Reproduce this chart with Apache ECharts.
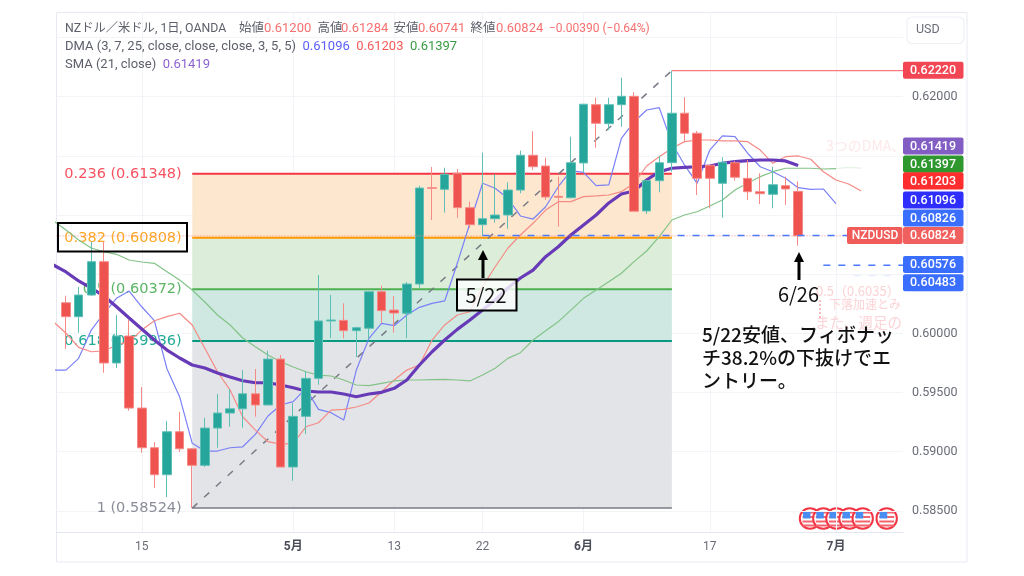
<!DOCTYPE html>
<html><head><meta charset="utf-8">
<style>html,body{margin:0;padding:0;background:#fff}#c{width:1024px;height:576px}</style>
<script src="https://cdn.jsdelivr.net/npm/echarts@6/dist/echarts.min.js"></script>
</head><body><div id="c"></div>
<script>
// index 0 = 15 Apr; candles run from index -6 to 52 (26 Jun), trading days only
const candleStart = -6;
const opens  = [.60259,.60141,.60324,.60606,.5975,.59978,.59369,.59034,.58806,.59169,.59025,.58885,.592,.59327,.59363,.5949,.59395,.59783,.58871,.59299,.5962,.60105,.6011,.60023,.60043,.60352,.60197,.6017,.60417,.61231,.61217,.61353,.61062,.60918,.60969,.61,.61211,.61505,.61414,.61158,.61146,.6144,.61932,.61772,.61932,.62003,.61034,.6129,.61442,.6186,.61691,.6142,.61268,.61442,.6131,.61197,.61175,.61248,.612];
const closes = [.60141,.60324,.60606,.5975,.59978,.59369,.59034,.58806,.59169,.59025,.58885,.592,.59327,.59363,.5949,.59395,.59783,.58871,.59299,.5962,.60105,.60113,.60023,.60048,.60352,.60192,.60172,.60417,.61228,.61226,.61344,.61062,.60918,.60969,.61,.61211,.61505,.61408,.61152,.6115,.61442,.61936,.61775,.61932,.62003,.61032,.6129,.61442,.6186,.61691,.6131,.6131,.61446,.61319,.61197,.6118,.61256,.6122,.60824];
const lows   = [.59868,.60006,.60316,.59668,.59707,.59347,.58992,.58693,.58617,.58998,.58524,.58871,.59034,.59211,.59203,.59296,.59395,.58871,.58755,.5915,.59566,.59961,.59958,.598,.59952,.60088,.60006,.59961,.60383,.60958,.6102,.60977,.6089,.60826,.60935,.60884,.61184,.6138,.61127,.60901,.61141,.61355,.61569,.61718,.61746,.6103,.61009,.61192,.61366,.6162,.61169,.61057,.60977,.6129,.61127,.61093,.61057,.61085,.60741];
const highs  = [.60318,.60392,.60775,.60775,.60155,.60113,.59547,.59082,.5926,.59336,.59031,.59287,.59488,.5953,.5969,.59699,.59854,.59817,.59412,.59682,.60493,.60324,.60254,.60056,.60356,.60403,.60316,.60434,.61248,.61406,.614,.61389,.61113,.61527,.61344,.61277,.61544,.61707,.61484,.61324,.61662,.61939,.61991,.61991,.6216,.62037,.61296,.61501,.6222,.61995,.6171,.61423,.61488,.61459,.61465,.61353,.61408,.61324,.61284];
const lineStart = -7;
const dmaBlue = [.5969,.5969,.59789,.60028,.6017,.60296,.60358,.60225,.60107,.59699,.59465,.59071,.59006,.59006,.59034,.59042,.59147,.59302,.59395,.59423,.59536,.59358,.5933,.59268,.5969,.59958,.60085,.60065,.60155,.6022,.60254,.60274,.60592,.60933,.61268,.61226,.61141,.60992,.60966,.6107,.61239,.61375,.61361,.61248,.61254,.61648,.61786,.61887,.61907,.61606,.61423,.61268,.61549,.61668,.61662,.61522,.61408,.61366,.6131,.61231,.61217,.6122,.61096];
const dmaRed = [.60099,.60001,.59882,.59845,.59851,.59902,.5993,.60028,.60107,.60141,.6017,.60071,.59874,.59676,.59521,.59296,.59183,.59085,.59065,.59071,.59211,.59245,.59352,.59358,.59378,.59412,.59507,.59606,.5969,.59733,.59944,.60071,.60155,.60183,.60394,.60563,.60719,.60831,.6093,.61042,.61113,.61113,.61155,.61161,.61169,.61197,.61268,.61414,.61493,.61564,.6162,.61634,.61634,.61626,.61626,.6162,.61549,.61437,.61493,.61499,.61471,.61366,.61296,.61262,.61203];
const dmaGreen = [.6095,.60873,.60789,.60721,.6069,.60668,.6062,.60603,.60592,.60521,.60451,.60367,.60265,.60155,.60071,.59961,.59887,.59817,.59761,.59716,.59676,.59648,.5964,.59606,.59564,.59558,.59578,.59598,.59606,.59606,.59609,.59612,.59606,.59598,.59648,.59705,.59789,.59837,.59944,.60023,.60099,.60197,.60296,.60367,.60437,.60508,.60606,.60696,.60817,.60958,.61,.61028,.61076,.61127,.61211,.61271,.61324,.61366,.61395,.61395,.61395,.61389,.61392,.61402,.61397];
const smaPurple = [.60578,.60519,.60443,.60383,.60316,.60225,.6013,.60037,.59944,.59859,.59792,.59733,.59707,.59665,.59631,.596,.59583,.59583,.59564,.59541,.59513,.59505,.59505,.59488,.59465,.59488,.59502,.59536,.59606,.59733,.59845,.59944,.60034,.60113,.60197,.60282,.60383,.60468,.60535,.60648,.60732,.60831,.60916,.61,.61102,.61178,.61203,.61296,.61366,.61395,.61403,.61408,.61414,.61437,.61451,.61459,.61465,.61465,.61457,.61419];
const fibBoxStart = 4, fibBoxEnd = 42;
const fibLevels = [.61348,.60808,.60372,.59936,.58524];
const fibNames = ['0.236 (0.61348)','0.382 (0.60808)','0.5 (0.60372)','0.618 (0.59936)','1 (0.58524)'];
const fibLineColors = ['#f23645','#ff9800','#4caf50','#089981','#787b86'];
const fibTextColors = ['#f7525f','#ffa726','#5bb565','#22ab94','#8a8d97'];
const fibFills = ['#fde8cf','#dcedd9','#cfe9e2','#e3e4e7'];
const swingLow = .58524, swingHigh = .6222;
const tickIdx = [0,12,20,27,35,45,55];
const tickText = ['15','5月','13','22','6月','17','7月'];
const yGrid = [.585,.59,.595,.6,.605,.61,.615,.62,.625];
const yLabels = [.585,.59,.595,.6,.62];
const tagTexts = ['0.62220','0.61419','0.61397','0.61203','0.61096','0.60826','0.60824','0.60576','0.60483'];
const tagColors = ['#f23645','#673ab7','#008000','#ff0000','#0000ff','#2962ff','#ef5350','#2962ff','#2962ff'];
// price scale height at which each stacked tag sits
const tagAt = [.62223,.61583,.61431,.61288,.61127,.60975,.60827,.60582,.60428];
const eventX = [810,823.3,836.4,849.5,862.7,886.7];
const headerTexts = ['NZドル／米ドル, 1日, OANDA','始値','0.61200','高値','0.61284','安値','0.60741','終値','0.60824','−0.00390 (−0.64%)'];
const headerX = [65,239,264,317.5,341,393.5,418,470.5,496,549];

const GREEN='#26a69a', RED='#ef5350', FONT='Roboto,"Noto Sans CJK JP",sans-serif', JP='"Noto Sans CJK JP",sans-serif';
const xMin=-6.754, xMax=60.31;
const withX=(arr,start)=>arr.map((v,i)=>[start+i,v]);
const seg=(a,b,v)=>[[a,v],[b,v]];
const lineSeries=(data,color,width,z,extra)=>Object.assign({type:'line',data,symbol:'none',silent:true,animation:false,z,lineStyle:{color,width}},extra||{});

const chart=echarts.init(document.getElementById('c'),null,{renderer:'canvas'});
const series=[];
// fib fills
series.push({type:'custom',z:1,silent:true,animation:false,clip:false,
  data:fibFills.map((c,i)=>[fibBoxStart,fibBoxEnd,fibLevels[i],fibLevels[i+1]]),
  encode:{x:[0,1],y:[2,3]},
  renderItem:(p,api)=>{const a=api.coord([api.value(0),api.value(2)]),b=api.coord([api.value(1),api.value(3)]);
    return {type:'rect',shape:{x:a[0],y:a[1],width:b[0]-a[0],height:b[1]-a[1]},style:{fill:fibFills[p.dataIndex]}};}});
// fib labels
series.push({type:'custom',z:2,silent:true,animation:false,clip:false,
  data:fibLevels.map(v=>[fibBoxStart,v]),encode:{x:0,y:1},
  renderItem:(p,api)=>{const a=api.coord([api.value(0),api.value(1)]);
    return {type:'text',style:{x:a[0]-10.5,y:a[1],text:fibNames[p.dataIndex],align:'right',verticalAlign:'middle',
      fill:fibTextColors[p.dataIndex],font:'14.5px "DejaVu Sans",sans-serif'}};}});
fibLevels.forEach((v,i)=>series.push(lineSeries(seg(fibBoxStart,fibBoxEnd,v),fibLineColors[i],i===4?1.5:2,2)));
// swing diagonal + high line
series.push(lineSeries([[fibBoxStart,swingLow],[fibBoxEnd,swingHigh]],'#787b86',1.5,3,{lineStyle:{color:'#787b86',width:1.5,type:[7,9]}}));
series.push(lineSeries(seg(fibBoxEnd,xMax,swingHigh),'#f77c80',1.2,3));
// indicators
series.push(lineSeries(withX(dmaBlue,lineStart),'#7a80f7',1.2,4));
series.push(lineSeries(withX(dmaRed,lineStart),'#f58a85',1.2,4));
series.push(lineSeries(withX(dmaGreen,lineStart).slice(0,63),'#83c387',1.2,4));
series.push(lineSeries(withX(dmaGreen,lineStart).slice(62),'#e6f3e6',1.2,4));
series.push(lineSeries(withX(smaPurple,lineStart),'#673ab7',3.2,4.5));
// candles
series.push({type:'candlestick',z:5,silent:true,animation:false,barWidth:9,
  data:opens.map((o,i)=>[candleStart+i,o,closes[i],lows[i],highs[i]]),
  encode:{x:0,y:[1,2,3,4]},
  itemStyle:{color:GREEN,color0:RED,borderColor:'#5dbfb5',borderColor0:'#f58a87',borderWidth:1}});
// price lines
series.push(lineSeries(seg(xMin,xMax,.60824),'#ef5350',1,6,{lineStyle:{color:'#f58a87',width:1,type:[1,2]}}));
series.push(lineSeries(seg(27,55.95,.60826),'#2962ff',1.3,6,{lineStyle:{color:'#4a7bff',width:1.5,type:[7,8]}}));
series.push(lineSeries(seg(54,xMax,.60576),'#2962ff',1.3,6,{lineStyle:{color:'#4a7bff',width:1.5,type:[7,8]}}));
series.push(lineSeries(seg(56.4,59.8,.6049),'#e6eefc',1.3,6,{lineStyle:{color:'#e6eefc',width:1.5,type:[7,8]}}));
// right hand price tags
series.push({type:'custom',z:8,silent:true,animation:false,clip:false,
  data:tagAt.map(v=>[xMax,v]),encode:{x:0,y:1},
  renderItem:(p,api)=>{const a=api.coord([api.value(0),api.value(1)]);const i=p.dataIndex;
    const ch=[{type:'rect',shape:{x:a[0],y:a[1]-8.6,width:60.5,height:17.2,r:2},style:{fill:tagColors[i],opacity:i>=1&&i<=4?.82:.92}},
      {type:'text',style:{x:a[0]+30,y:a[1]+.5,text:tagTexts[i],align:'center',verticalAlign:'middle',fill:'#fff',font:'500 12.5px '+FONT}}];
    if(i===6){ch.push({type:'rect',shape:{x:a[0]-56,y:a[1]-8.6,width:55.5,height:17.2,r:2},style:{fill:RED,opacity:.95}},
      {type:'text',style:{x:a[0]-28,y:a[1]+.5,text:'NZDUSD',align:'center',verticalAlign:'middle',fill:'#fff',font:'500 12px '+FONT}});}
    return {type:'group',children:ch};}});

// annotations
const g=[];
const hdr={fontFamily:FONT,fontSize:13};
g.push({type:'rect',z:0,silent:true,shape:{x:56.5,y:12.5,width:910.5,height:549.5},style:{fill:'none',stroke:'#e8eaf2',lineWidth:1}});
headerTexts.forEach((t,i)=>{
  const isLabel=i===0||i===1||i===3||i===5||i===7;
  const size=i===0?12.3:(i===9?12:(isLabel?12.5:13));
  g.push({type:'text',z:20,style:{x:headerX[i],y:28.5,text:t,verticalAlign:'middle',fill:isLabel?'#5d606b':'#f77070',font:size+'px '+FONT}});
});
g.push({type:'text',z:20,style:{x:65,y:40,text:'{a|DMA (3, 7, 25, close, close, close, 3, 5, 5)}{b|  0.61096}{r|  0.61203}{g|  0.61397}',
  rich:{a:{...hdr,fill:'#5d606b'},b:{...hdr,fill:'#5a5ff7'},r:{...hdr,fill:'#f55a5a'},g:{...hdr,fill:'#3b9b45'}}}});
g.push({type:'text',z:20,style:{x:65,y:58,text:'{a|SMA (21, close)}{p|  0.61419}',rich:{a:{...hdr,fill:'#5d606b'},p:{...hdr,fill:'#8b63d2'}}}});
g.push({type:'rect',z:20,silent:true,shape:{x:907,y:17,width:57,height:26.5,r:5},style:{fill:'#fff',stroke:'#eef0f5',lineWidth:1.2}});
g.push({type:'text',z:21,style:{x:916,y:30,text:'USD',verticalAlign:'middle',fill:'#6a6d78',font:'12.5px '+FONT}});
// boxes
g.push({type:'rect',z:20,silent:true,shape:{x:58,y:223,width:129,height:28.5},style:{fill:'none',stroke:'#000',lineWidth:2}});
g.push({type:'rect',z:20,silent:true,shape:{x:457,y:279.5,width:59.5,height:31},style:{fill:'rgba(255,255,255,.8)',stroke:'#000',lineWidth:2}});
g.push({type:'text',z:21,style:{x:486,y:295.5,text:'5/22',align:'center',verticalAlign:'middle',fill:'#111',font:'20px '+JP}});
g.push({type:'text',z:21,style:{x:798.5,y:294,text:'6/26',align:'center',verticalAlign:'middle',fill:'#111',font:'20px '+JP}});
// arrows
[[483,250],[799,252]].forEach(([x,y])=>{
  g.push({type:'line',z:21,silent:true,shape:{x1:x,y1:y+8,x2:x,y2:y+28},style:{stroke:'#000',lineWidth:3}});
  g.push({type:'polygon',z:21,silent:true,shape:{points:[[x,y],[x+5,y+10],[x-5,y+10]]},style:{fill:'#000'}});
});
// faint back-layer notes
g.push({type:'text',z:9,style:{x:826,y:146,text:'3つのDMA、',verticalAlign:'middle',fill:'#fde8e9',font:'14px '+JP}});
g.push({type:'text',z:9,style:{x:816,y:291,text:'0.5（0.6035）',verticalAlign:'middle',fill:'#fcd3d6',font:'13px '+JP}});
g.push({type:'text',z:9,style:{x:829,y:304,text:'下落加速とみ',verticalAlign:'middle',fill:'#fcd3d6',font:'12px '+JP}});
g.push({type:'text',z:9,style:{x:815,y:322,text:'また、週足の',verticalAlign:'middle',fill:'#fcd3d6',font:'14.5px '+JP}});
g.push({type:'line',z:9,silent:true,shape:{x1:820,y1:300,x2:820,y2:318},style:{stroke:'#f67c80',lineWidth:1,lineDash:[2,2]}});
// note
['5/22安値、フィボナッ','チ38.2%の下抜けでエ','ントリー。'].forEach((t,i)=>g.push({type:'text',z:21,style:{x:702,y:335+i*23,text:t,verticalAlign:'middle',fill:'#111',font:'500 19px '+JP}}));
// event flags
eventX.forEach(x=>{
  const y=518.5,ch=[];
  ch.push({type:'circle',shape:{cx:x,cy:y,r:10.2},style:{fill:'#fff',stroke:'#f23645',lineWidth:2}});
  [-6,-1.5,3,7].forEach(d=>ch.push({type:'rect',shape:{x:x-7.5,y:y+d-1,width:15,height:2},style:{fill:'#f2656f'}}));
  ch.push({type:'rect',shape:{x:x-7,y:y-7,width:7.5,height:7},style:{fill:'#4a8df0'}});
  g.push({type:'group',z:22,silent:true,children:ch});
});

chart.setOption({
  animation:false,backgroundColor:'#fff',
  grid:{left:56.5,right:121,top:12.5,bottom:44,containLabel:false},
  xAxis:{type:'value',min:xMin,max:xMax,scale:true,
    axisLine:{show:true,onZero:false,lineStyle:{color:'#e4e7ef'}},
    axisTick:{show:false,customValues:tickIdx},
    splitLine:{show:true,lineStyle:{color:'#f3f4f7',width:1}},
    axisLabel:{customValues:tickIdx,margin:9,fontFamily:FONT,fontSize:12,color:'#6a6d78',
      formatter:v=>{const t=tickText[tickIdx.indexOf(v)];return t.includes('月')?'{b|'+t+'}':t;},
      rich:{b:{fontFamily:FONT,fontSize:12,fontWeight:'bold',color:'#4a4d58'}}}},
  yAxis:{type:'value',position:'right',min:.58322,max:.62711,scale:true,
    axisLine:{show:true,lineStyle:{color:'#f0f1f5'}},
    axisTick:{show:false,customValues:yGrid},
    splitLine:{show:true,lineStyle:{color:'#f3f4f7',width:1}},
    axisLabel:{customValues:yLabels,margin:9,fontFamily:FONT,fontSize:12.5,color:'#6a6d78',formatter:v=>v.toFixed(5)}},
  series,graphic:{elements:g}
});
</script></body></html>
